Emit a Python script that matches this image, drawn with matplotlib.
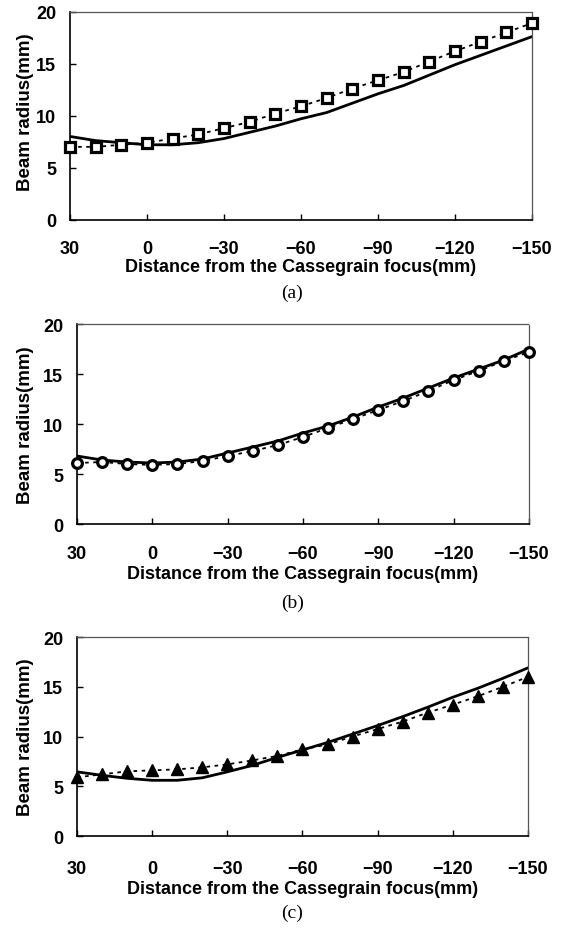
import matplotlib.pyplot as plt

# distance from the Cassegrain focus (mm)
distance = [30, 20, 10, 0, -10, -20, -30, -40, -50, -60, -70, -80, -90,
            -100, -110, -120, -130, -140, -150]

# (a) square markers (measured) and solid line (calculated)
meas_a = [7.0, 7.0, 7.2, 7.4, 7.8, 8.2, 8.8, 9.4, 10.2, 10.9, 11.7, 12.6, 13.4,
          14.2, 15.2, 16.2, 17.1, 18.0, 18.9]
calc_a = [8.0, 7.6, 7.4, 7.2, 7.2, 7.4, 7.8, 8.4, 9.0, 9.7, 10.3, 11.2, 12.1,
          12.9, 13.9, 14.9, 15.8, 16.7, 17.6]

# (b) circle markers and solid line
meas_b = [6.1, 6.2, 6.0, 5.9, 6.0, 6.3, 6.8, 7.3, 7.9, 8.7, 9.6, 10.5, 11.4,
          12.3, 13.3, 14.4, 15.3, 16.3, 17.2]
calc_b = [6.8, 6.4, 6.2, 6.1, 6.2, 6.5, 7.1, 7.7, 8.3, 9.1, 9.8, 10.7, 11.7,
          12.6, 13.6, 14.6, 15.5, 16.4, 17.5]

# (c) triangle markers and solid line
meas_c = [5.9, 6.2, 6.5, 6.6, 6.7, 6.9, 7.2, 7.6, 8.05, 8.7, 9.2, 10.0, 10.75,
          11.5, 12.4, 13.2, 14.05, 15.0, 16.0]
calc_c = [6.45, 6.1, 5.8, 5.6, 5.6, 5.85, 6.45, 7.1, 7.9, 8.65, 9.4, 10.25, 11.1,
          12.0, 12.95, 13.95, 14.85, 15.85, 16.9]

xticks = [30, 0, -30, -60, -90, -120, -150]
yticks = [0, 5, 10, 15, 20]
captions = ['(a)', '(b)', '(c)']

plt.rcParams['font.family'] = ['Liberation Sans', 'DejaVu Sans']

fig = plt.figure(figsize=(5.62, 9.37), dpi=100)

# axes rectangles [left, bottom, width, height] in figure fraction
boxes = [
    [0.1246, 0.7645, 0.822, 0.222],
    [0.137, 0.4397, 0.804, 0.2134],
    [0.137, 0.1067, 0.8025, 0.2124],
]
caption_y = [0.687, 0.356, 0.0256]
ylabel_y = [0.880, 0.5464, 0.2129]
xlabel_pad = [0.5, 2, 2.5]
xtick_pad = [15, 15, 17]
series = [
    (meas_a, calc_a, dict(marker='s', ms=6.5, mfc='white', mec='black', mew=2.3)),
    (meas_b, calc_b, dict(marker='o', ms=7, mfc='white', mec='black', mew=2.3)),
    (meas_c, calc_c, dict(marker='^', ms=8, mfc='black', mec='black', mew=1)),
]

for i, (meas, calc, mstyle) in enumerate(series):
    box = boxes[i]
    ax = fig.add_axes(box)
    ax.plot(distance, calc, color='black', lw=2, zorder=2)
    ax.plot(distance, meas, color='black', lw=1.3, ls=(0, (2, 2.5)),
            zorder=3, clip_on=False, **mstyle)
    ax.set_xlim(30, -150)
    ax.set_ylim(0, 20)
    ax.set_xticks(xticks)
    ax.set_xticklabels([str(t).replace('-', '\u2212') for t in xticks])
    ax.set_yticks(yticks)
    ax.tick_params(direction='in', length=4, width=1, labelsize=13)
    ax.tick_params(axis='x', pad=xtick_pad[i])
    ax.tick_params(axis='y', pad=10)
    for lab in ax.get_xticklabels() + ax.get_yticklabels():
        lab.set_fontweight('bold')
    for side in ['left', 'bottom']:
        ax.spines[side].set_linewidth(1.2)
    for side in ['top', 'right']:
        ax.spines[side].set_color('#555555')
        ax.spines[side].set_linewidth(0.9)
        ax.spines[side].set_linestyle((0, (1, 1)))
    ax.set_xlabel('Distance from the Cassegrain focus(mm)', fontsize=13,
                  fontweight='bold', labelpad=xlabel_pad[i])
    # y label placed by hand
    fig.text(0.0445, ylabel_y[i], 'Beam radius(mm)', rotation=90,
             ha='center', va='center', fontsize=13.5, fontweight='bold')
    fig.text(0.52, caption_y[i], captions[i], ha='center', va='center',
             fontsize=14, family='Liberation Serif')

fig.savefig('out.png', dpi=100)
